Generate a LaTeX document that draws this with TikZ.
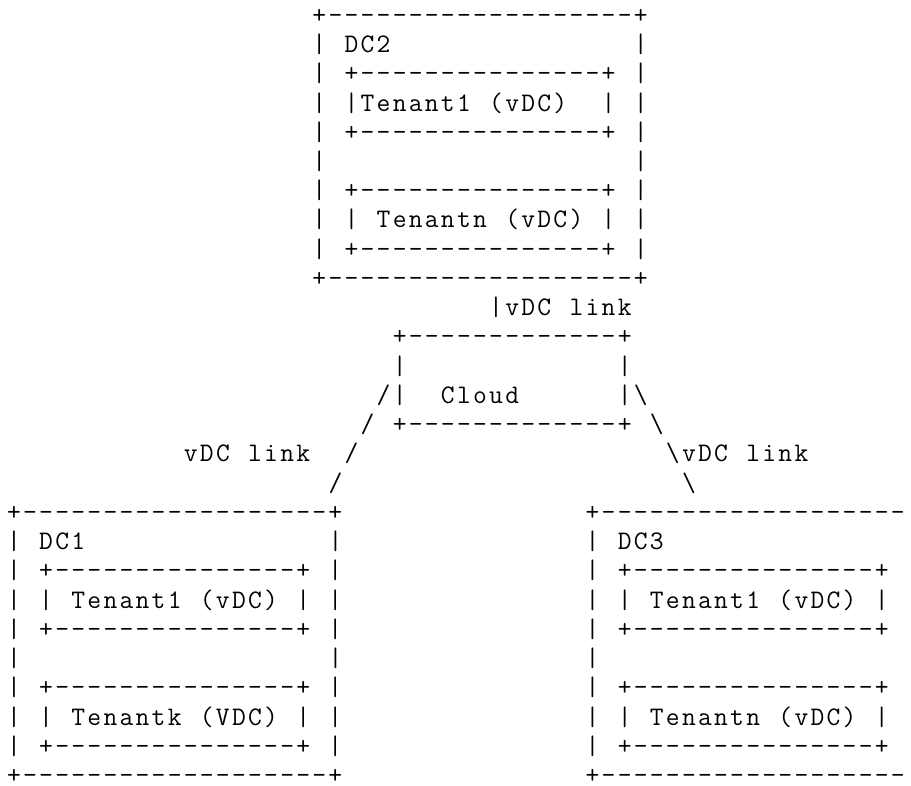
\documentclass[tikz,border=0pt]{standalone}
\usepackage{fontspec}
\begin{document}
\frenchspacing
\newlength\cellw \setlength\cellw{16.07pt}
\def\cells#1{\cellsA#1\relax}
\def\cellsA#1{\ifx#1\relax\else\makebox[\cellw][c]{#1}\expandafter\cellsA\fi}
\tikzset{ascii/.style={font=\ttfamily\fontsize{26.78pt}{29.31pt}\selectfont, anchor=base west, inner sep=0pt, outer sep=0pt, text=black}}
\newcommand\asc[4]{\node[ascii] (#1) at ({5.97pt+#3*16.07pt},{762.7pt-#2*29.24pt}) {\cells{#4}};}
\newcommand\bs{\textbackslash}
\begin{tikzpicture}
\useasboundingbox (0,0) rectangle (911pt,786pt);
\clip (0,0) rectangle (911pt,786pt);
% DC2
\asc{a0}{0}{19}{+-------------------+}
\asc{a1}{1}{19}{|~DC2~~~~~~~~~~~~~~~|}
\asc{a2}{2}{19}{|~+---------------+~|}
\asc{a3}{3}{19}{|~|Tenant1~(vDC)~~|~|}
\asc{a4}{4}{19}{|~+---------------+~|}
\asc{a5}{5}{19}{|~~~~~~~~~~~~~~~~~~~|}
\asc{a6}{6}{19}{|~+---------------+~|}
\asc{a7}{7}{19}{|~|~Tenantn~(vDC)~|~|}
\asc{a8}{8}{19}{|~+---------------+~|}
\asc{a9}{9}{19}{+-------------------+}
% link and cloud
\asc{k0}{10}{30}{|vDC~link}
\asc{c0}{11}{24}{+-------------+}
\asc{c1}{12}{24}{|~~~~~~~~~~~~~|}
\asc{c2}{13}{23}{/|~~Cloud~~~~~~|\bs}
\asc{c3}{14}{22}{/~+-------------+~\bs}
\asc{k1}{15}{11}{vDC~link~~/}
\asc{k2}{15}{41}{\bs vDC~link}
\asc{k3}{16}{20}{/}
\asc{k4}{16}{42}{\bs}
% DC1
\asc{b0}{17}{0}{+-------------------+}
\asc{b1}{18}{0}{|~DC1~~~~~~~~~~~~~~~|}
\asc{b2}{19}{0}{|~+---------------+~|}
\asc{b3}{20}{0}{|~|~Tenant1~(vDC)~|~|}
\asc{b4}{21}{0}{|~+---------------+~|}
\asc{b5}{22}{0}{|~~~~~~~~~~~~~~~~~~~|}
\asc{b6}{23}{0}{|~+---------------+~|}
\asc{b7}{24}{0}{|~|~Tenantk~(VDC)~|~|}
\asc{b8}{25}{0}{|~+---------------+~|}
\asc{b9}{26}{0}{+-------------------+}
% DC3 (cut at the right edge, as in the reference)
\asc{d0}{17}{36}{+-------------------}
\asc{d1}{18}{36}{|~DC3}
\asc{d2}{19}{36}{|~+---------------+}
\asc{d3}{20}{36}{|~|~Tenant1~(vDC)~|}
\asc{d4}{21}{36}{|~+---------------+}
\asc{d5}{22}{36}{|}
\asc{d6}{23}{36}{|~+---------------+}
\asc{d7}{24}{36}{|~|~Tenantn~(vDC)~|}
\asc{d8}{25}{36}{|~+---------------+}
\asc{d9}{26}{36}{+-------------------}
\end{tikzpicture}
\end{document}
